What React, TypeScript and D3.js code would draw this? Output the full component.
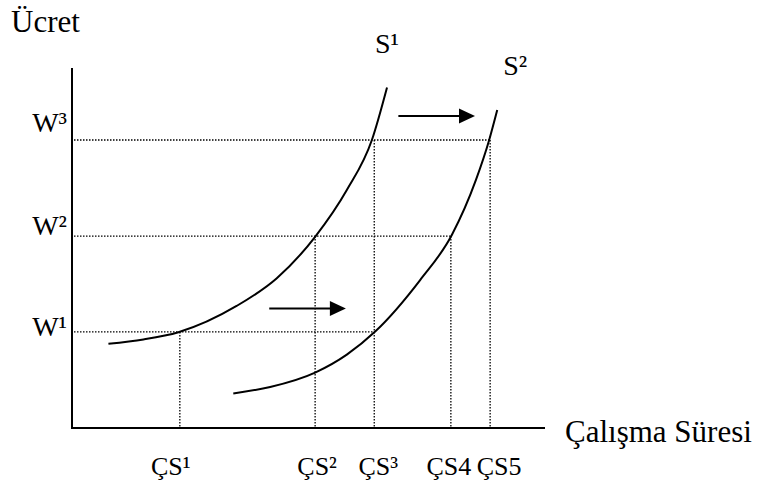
import React from "react";
import * as d3 from "d3";

// Supply curve S¹ (hours, wage) in abstract units
const s1Hours = [7.7, 15.1, 22.5, 34.8, 43.3, 51.4, 58.1, 63.4, 66.6];
const s1Wage = [23.4, 24.6, 26.6, 33.9, 41.6, 53.1, 66.1, 80.0, 94.6];
// Supply curve S² (shifted right)
const s2Hours = [34.1, 41.9, 51.4, 58.1, 64.1, 73.6, 80.3, 85.4, 88.2, 89.9];
const s2Wage = [9.6, 11.4, 15.4, 20.4, 26.8, 41.1, 53.6, 68.9, 80.0, 88.3];

// Wage levels and hour levels
const wageLabels = ["W¹", "W²", "W³"];
const wageValues = [26.7, 53.3, 80.0];
const hourLabels = ["ÇS¹", "ÇS²", "ÇS³", "ÇS4", "ÇS5"];
const hourValues = [22.8, 51.4, 63.9, 80.1, 88.4];
// which wage each hour level reaches (index into wageValues)
const hourToWage = [0, 1, 2, 1, 2];
// horizontal dotted line ends at this hour index
const wageToHour = [2, 3, 4];

// Shift arrows: [fromHour, toHour, wage]
const arrowFrom = [41.7, 69.0];
const arrowTo = [57.9, 85.2];
const arrowWage = [33.2, 86.7];

const W = 758;
const H = 489;

export default function App() {
  const x = d3.scaleLinear().domain([0, 100]).range([72, 545]);
  const y = d3.scaleLinear().domain([0, 100]).range([428, 68]);

  const line = d3
    .line<[number, number]>()
    .x((d) => x(d[0]))
    .y((d) => y(d[1]))
    .curve(d3.curveMonotoneX);

  const s1 = s1Hours.map((h, i) => [h, s1Wage[i]] as [number, number]);
  const s2 = s2Hours.map((h, i) => [h, s2Wage[i]] as [number, number]);

  const font = '"Liberation Serif", "Times New Roman", "DejaVu Serif", serif';
  const ts = { fontFamily: font, fill: "#000" } as React.CSSProperties;
  const wageDy = [4, -1, -8];
  const hourDx = [-9, 2, 4, -2, 9];

  return (
    <svg
      width={W}
      height={H}
      style={{ position: "absolute", left: 0, top: 0, background: "#fff", fontFamily: font }}
    >
      <rect width={W} height={H} fill="#fff" />
      {/* dotted guides */}
      <g stroke="#000" strokeWidth={1.3} strokeDasharray="1.5 1.5" fill="none">
        {wageValues.map((w, i) => (
          <line
            key={"h" + i}
            x1={x(0) + 2}
            x2={x(hourValues[wageToHour[i]])}
            y1={y(w)}
            y2={y(w)}
          />
        ))}
        {hourValues.map((h, i) => (
          <line
            key={"v" + i}
            x1={x(h)}
            x2={x(h)}
            y1={y(wageValues[hourToWage[i]])}
            y2={y(0) - 1}
          />
        ))}
      </g>
      {/* axes */}
      <line x1={x(0)} x2={x(0)} y1={y(100)} y2={y(0) + 1} stroke="#000" strokeWidth={2} />
      <line x1={x(0) - 1} x2={x(100)} y1={y(0)} y2={y(0)} stroke="#000" strokeWidth={2} />
      {/* curves */}
      <path d={line(s1) || ""} fill="none" stroke="#000" strokeWidth={2} />
      <path d={line(s2) || ""} fill="none" stroke="#000" strokeWidth={2} />
      {/* arrows */}
      {arrowFrom.map((f, i) => {
        const x1 = x(f);
        const x2 = x(arrowTo[i]);
        const yy = y(arrowWage[i]);
        return (
          <g key={"a" + i}>
            <line x1={x1} x2={x2 - 14} y1={yy} y2={yy} stroke="#000" strokeWidth={2} />
            <path d={`M${x2},${yy} L${x2 - 16},${yy - 7.5} L${x2 - 16},${yy + 7.5} Z`} fill="#000" />
          </g>
        );
      })}
      {/* texts */}
      <text x={11} y={32} fontSize={31} style={ts}>Ücret</text>
      <text x={565} y={442} fontSize={31} style={ts}>Çalışma Süresi</text>
      <text x={x(s1Hours[s1Hours.length - 1]) - 12} y={53} fontSize={28} style={ts}>S¹</text>
      <text x={x(s2Hours[s2Hours.length - 1]) + 6} y={75} fontSize={28} style={ts}>S²</text>
      {wageLabels.map((l, i) => (
        <text key={l} x={67} y={y(wageValues[i]) + wageDy[i]} fontSize={28} textAnchor="end" style={ts}>
          {l}
        </text>
      ))}
      {hourLabels.map((l, i) => (
        <text key={l} x={x(hourValues[i]) + hourDx[i]} y={475} fontSize={26} textAnchor="middle" style={ts}>
          {l}
        </text>
      ))}
    </svg>
  );
}
